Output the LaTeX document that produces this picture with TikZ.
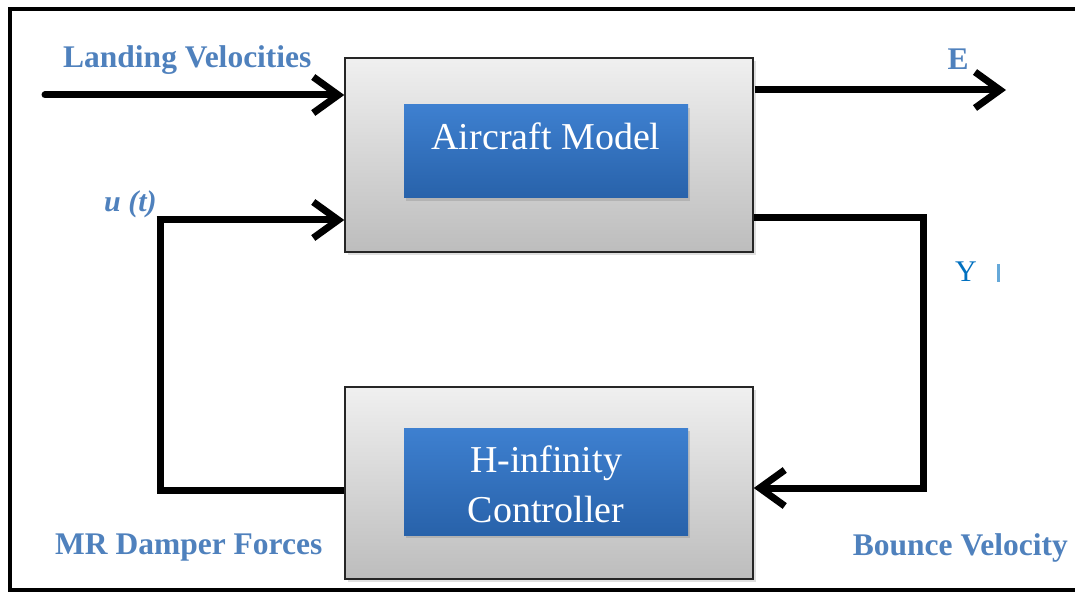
\documentclass[tikz,border=0pt]{standalone}
\usepackage{fontspec}
\setmainfont{Liberation Serif}
\usetikzlibrary{arrows.meta,shadows}
\definecolor{lblue}{RGB}{79,129,189}
\definecolor{ybl}{RGB}{0,112,192}
\definecolor{btop}{RGB}{62,128,208}
\definecolor{bbot}{RGB}{40,98,170}
\tikzset{
  graybox/.style={draw=black!85, line width=1.5pt, top color=black!6, bottom color=black!26, drop shadow={shadow xshift=3pt, shadow yshift=-3pt, opacity=0.25}},
  bluebox/.style={draw=none, top color=btop, bottom color=bbot, drop shadow={shadow xshift=2pt, shadow yshift=-3pt, opacity=0.3}},
  wtext/.style={text=white, font=\fontsize{38}{50}\selectfont, inner sep=0pt, align=center},
  lbl/.style={text=lblue, font=\fontsize{31.5}{34}\selectfont\bfseries, inner sep=0pt},
  conn/.style={line width=7pt, line cap=round, line join=round, -{Straight Barb[length=25pt, width=36pt, line width=7pt]}},
  wire/.style={line width=7pt, line join=miter},
}
\begin{document}
\begin{tikzpicture}[x=1pt, y=-1pt]
\useasboundingbox (0,0) rectangle (1075,593);
\fill[white] (0,0) rectangle (1075,593);
\draw[line width=3.5pt] (1076,9) -- (10,9) -- (10,590) -- (1076,590);
% boxes
\node[graybox, minimum width=408pt, minimum height=194pt] (plant) at (549,155) {};
\node[bluebox, minimum width=284pt, minimum height=93pt] (plantin) at (546,151.5) {};
\node[wtext, anchor=base] (plantt) at (546,150) {Aircraft Model};
\node[graybox, minimum width=408pt, minimum height=192pt] (ctrl) at (549,483) {};
\node[bluebox, minimum width=284pt, minimum height=107pt] (ctrlin) at (546,481.5) {};
\node[wtext, anchor=base] (ctrlt1) at (546,472) {H-infinity};
\node[wtext, anchor=base] (ctrlt2) at (546,522) {Controller};
% coordinates
\coordinate (lvin) at (45,95);
\coordinate (eout) at (1006,90);
\coordinate (ul) at (160,220);
\coordinate (ll) at (160,490);
\coordinate (ur) at (923,218);
\coordinate (lr) at (923,488);
% connectors
\draw[conn] (lvin) -- (lvin -| plant.west);
\draw[conn, line cap=butt] ([xshift=1pt]plant.east |- eout) -- (eout);
\draw[wire] (plant.east |- ur) -- (ur) -- (lr);
\draw[conn, line cap=butt] ([xshift=3.5pt]lr) -- (lr -| ctrl.east);
\draw[wire] (ctrl.west |- ll) -- (ll) -- (ul);
\draw[conn, line cap=butt] ([xshift=-3.5pt]ul) -- (ul -| plant.west);
% labels
\node[lbl, anchor=base west] (lvl) at (63,68) {Landing Velocities};
\node[lbl, anchor=base] (el) at (958,70) {E};
\node[lbl, anchor=base west, font=\fontsize{30}{32}\selectfont\bfseries\itshape] (utl) at (104,212) {u (t)};
\node[lbl, anchor=base west] (mrl) at (55,554) {MR Damper Forces};
\node[lbl, anchor=base east] (bvl) at (1068,555) {Bounce Velocity};
\node[text=ybl, font=\fontsize{30}{32}\selectfont, inner sep=0pt, anchor=base] (yl) at (966,282) {Y};
\fill[ybl!60] (997,264) rectangle (999.5,282);
\end{tikzpicture}
\end{document}
